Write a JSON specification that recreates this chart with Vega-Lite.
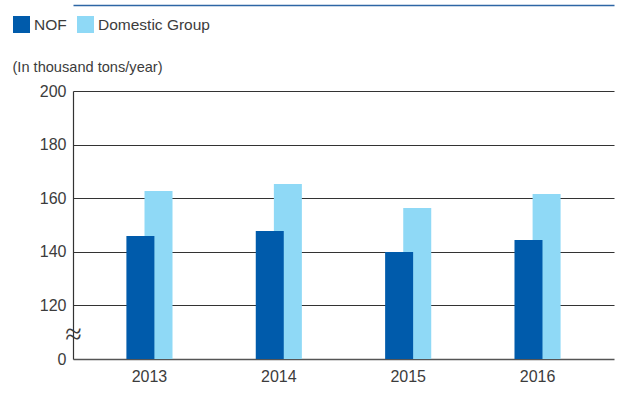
{
  "$schema": "https://vega.github.io/schema/vega-lite/v6.json",
  "width": 541,
  "height": 268,
  "autosize": "none",
  "padding": {"left": 73, "top": 91, "right": 6, "bottom": 34},
  "config": {"view": {"stroke": null}, "font": "Liberation Sans", "background": "#ffffff"},
  "data": {
    "values": [
      {"year": "2013", "series": "Domestic Group", "value": 162.7},
      {"year": "2014", "series": "Domestic Group", "value": 165.3},
      {"year": "2015", "series": "Domestic Group", "value": 156.3},
      {"year": "2016", "series": "Domestic Group", "value": 161.6},
      {"year": "2013", "series": "NOF", "value": 145.9},
      {"year": "2014", "series": "NOF", "value": 147.8},
      {"year": "2015", "series": "NOF", "value": 139.9},
      {"year": "2016", "series": "NOF", "value": 144.4}
    ]
  },
  "layer": [
    {
      "mark": {"type": "bar", "width": 28},
      "encoding": {
        "x": {
          "field": "year", "type": "nominal",
          "scale": {"paddingInner": 0.72, "paddingOuter": 0.451},
          "axis": {"title": null, "labelAngle": 0, "ticks": false, "labelPadding": 9, "labelFontSize": 16, "labelColor": "#3c3c3c", "domainColor": "#555555", "domainWidth": 1.5, "grid": false}
        },
        "xOffset": {
          "field": "series", "type": "nominal",
          "scale": {"domain": ["NOF", "Domestic Group"], "paddingInner": 0, "paddingOuter": 0}
        },
        "y": {
          "field": "value", "type": "quantitative", "stack": null,
          "scale": {"domain": [100, 200], "nice": false, "zero": false},
          "axis": {
            "values": [100, 109, 120, 140, 160, 180, 200],
            "labelExpr": "datum.value == 100 ? '0' : datum.value == 109 ? '≈' : datum.label",
            "title": "(In thousand tons/year)",
            "titleAngle": 0, "titleX": -61, "titleY": -24, "titleAlign": "left", "titleBaseline": "middle",
            "titleFontSize": 14.6, "titleFontWeight": "normal", "titleColor": "#3c3c3c",
            "ticks": false,
            "labelPadding": {"condition": {"test": "datum.value == 109", "value": 0}, "value": 7},
            "labelFontSize": {"condition": {"test": "datum.value == 109", "value": 30}, "value": 16},
            "labelFont": {"condition": {"test": "datum.value == 109", "value": "DejaVu Sans"}, "value": "Liberation Sans"},
            "labelFontWeight": {"condition": {"test": "datum.value == 109", "value": 200}, "value": "normal"},
            "labelAlign": {"condition": {"test": "datum.value == 109", "value": "center"}, "value": "right"},
            "labelColor": "#3c3c3c",
            "gridColor": "#333333", "gridWidth": 1.2,
            "gridOpacity": {"condition": {"test": "datum.value <= 110", "value": 0}, "value": 1},
            "domainColor": "#333333", "domainWidth": 1.2
          }
        },
        "color": {
          "field": "series", "type": "nominal",
          "scale": {"domain": ["NOF", "Domestic Group"], "range": ["#005bab", "#8fd9f6"]},
          "legend": {
            "orient": "none", "legendX": -60, "legendY": -75, "direction": "horizontal", "title": null,
            "symbolType": "square", "symbolSize": 289, "symbolStrokeWidth": 0, "symbolOpacity": 1,
            "labelFontSize": 15.5, "labelColor": "#3c3c3c", "labelOffset": 4, "columnPadding": 10
          }
        }
      }
    },
    {
      "mark": {"type": "bar", "opacity": 0},
      "encoding": {
        "x": {
          "field": "year", "type": "nominal",
          "axis": {"orient": "top", "offset": 86, "labels": false, "ticks": false, "grid": false, "title": null, "domainColor": "#2d66a5", "domainWidth": 1.5}
        }
      }
    }
  ],
  "resolve": {"axis": {"x": "independent"}}
}
